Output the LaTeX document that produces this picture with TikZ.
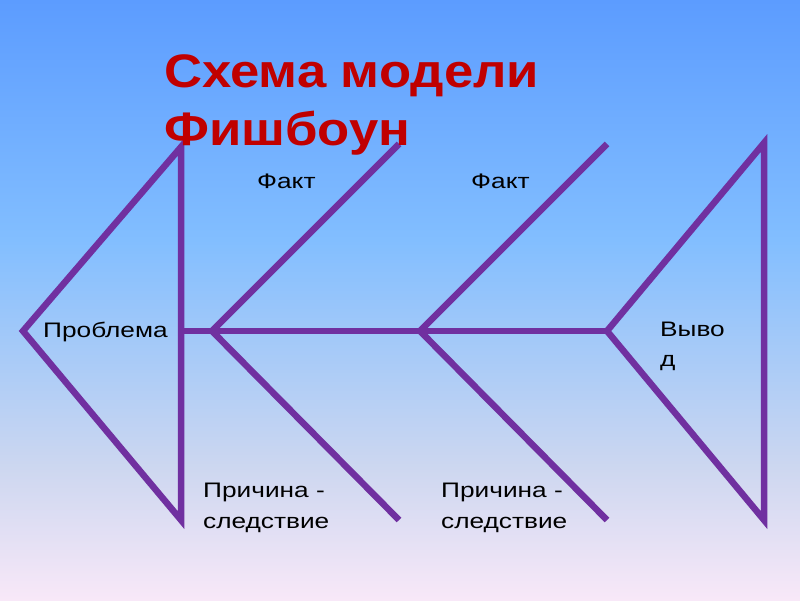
\documentclass[tikz,border=0pt]{standalone}
\usepackage{fontspec}
\setmainfont{Liberation Sans}
\newfontfamily\labfont{Liberation Sans}[FakeStretch=1.25]
\newfontfamily\ttlfont{Liberation Sans}[FakeStretch=1.12]
\definecolor{bone}{HTML}{7030A0}
\definecolor{ttlred}{HTML}{C00000}
\definecolor{bgtop}{RGB}{92,156,255}
\definecolor{bgmid}{RGB}{130,190,255}
\definecolor{bglav}{RGB}{205,215,240}
\definecolor{bgbot}{RGB}{248,232,248}
\pgfdeclareverticalshading{slidebg}{100bp}{color(0bp)=(bgbot); color(25bp)=(bgbot); color(36bp)=(bglav); color(55bp)=(bgmid); color(75bp)=(bgtop); color(100bp)=(bgtop)}
\begin{document}
\begin{tikzpicture}[x=1pt,y=-1pt,
  bonestyle/.style={draw=bone,line width=6.5pt,line join=miter,line cap=butt},
  lab/.style={anchor=base west,inner sep=0pt,font=\labfont\fontsize{21}{25}\selectfont,text=black},
  ttl/.style={anchor=base west,inner sep=0pt,font=\ttlfont\bfseries\fontsize{47}{56}\selectfont,text=ttlred}]
\useasboundingbox (0,0) rectangle (800,600);
\shade[shading=slidebg] (0,0) rectangle (800,600);
% head
\coordinate (htip) at (23,331);
\coordinate (htop) at (181,147);
\coordinate (hbot) at (181,520);
\coordinate (hspine) at (181,331);
% bone 1
\coordinate (v1) at (212,331);
\coordinate (b1t) at (399,144);
\coordinate (b1b) at (399,520);
% bone 2
\coordinate (v2) at (420,331);
\coordinate (b2t) at (607,144);
\coordinate (b2b) at (607,520);
% tail
\coordinate (v3) at (607,331);
\coordinate (tt) at (764,143);
\coordinate (tb) at (764,520);
\draw[bonestyle] (htop) -- (htip) -- (hbot) -- cycle;
\draw[bonestyle] (hspine) -- (v3);
\draw[bonestyle] (b1t) -- (v1) -- (b1b);
\draw[bonestyle] (b2t) -- (v2) -- (b2b);
\draw[bonestyle] (v3) -- (tt) -- (tb) -- cycle;
% texts
\node[ttl] (t1) at (164,87) {Схема модели};
\node[ttl] (t2) at (164,145) {Фишбоун};
\node[lab] (f1) at (257,188) {Факт};
\node[lab] (f2) at (471,188) {Факт};
\node[lab] (pr) at (43,337) {Проблема};
\node[lab] (vy1) at (660,336) {Выво};
\node[lab] (vy2) at (660,366) {д};
\node[lab] (c1a) at (203,497) {Причина -};
\node[lab] (c1b) at (203,528) {следствие};
\node[lab] (c2a) at (441,497) {Причина -};
\node[lab] (c2b) at (441,528) {следствие};
\end{tikzpicture}
\end{document}
